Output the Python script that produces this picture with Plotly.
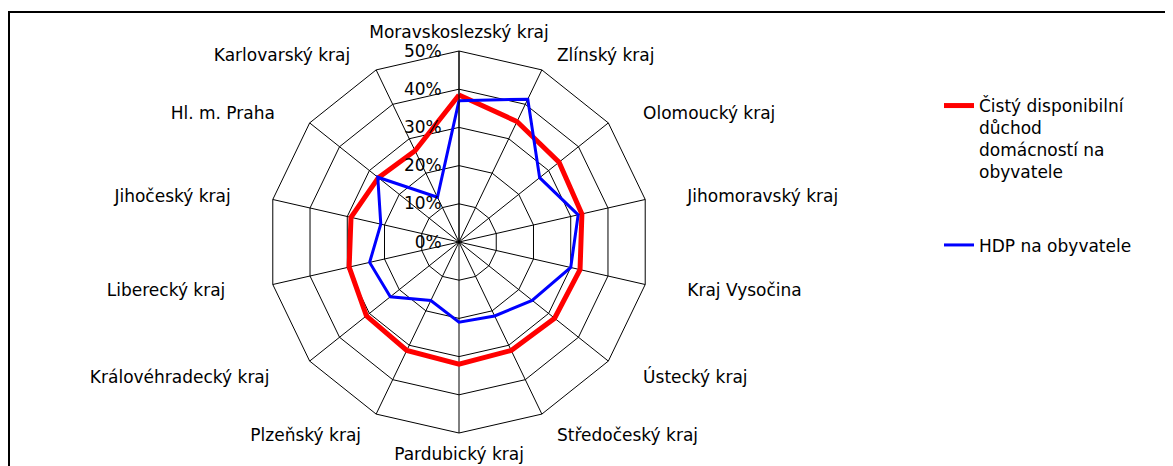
import plotly.graph_objects as go

categories = ["Moravskoslezský kraj", "Zlínský kraj", "Olomoucký kraj", "Jihomoravský kraj",
              "Kraj Vysočina", "Ústecký kraj", "Středočeský kraj", "Pardubický kraj",
              "Plzeňský kraj", "Královéhradecký kraj", "Liberecký kraj", "Jihočeský kraj",
              "Hl. m. Praha", "Karlovarský kraj"]
dispo = [0.385, 0.35, 0.335, 0.33, 0.325, 0.32, 0.315, 0.32, 0.315, 0.31, 0.295, 0.29, 0.27, 0.265]
hdp = [0.37, 0.415, 0.27, 0.32, 0.30, 0.245, 0.215, 0.21, 0.17, 0.23, 0.24, 0.21, 0.272, 0.13]
name_dispo = "Čistý disponibilní<br>důchod<br>domácností na<br>obyvatele"
name_hdp = "HDP na obyvatele"

W, H = 1173, 466
# page body has an 8px margin: positions below are in figure pixels
cx, cy, R = 451, 234, 191

# label padding (non-breaking spaces) to push labels away from the polygon, per side
NB = "\u00a0"
pads = [0, 2, 5, 6, 6, 5, 2, 0, 2, 6, 7, 6, 5, 4]
ticktext = []
for i, (c, p) in enumerate(zip(categories, pads)):
    if 0 < i < 7:
        ticktext.append(NB * p + c)
    elif i > 7:
        ticktext.append(c + NB * p)
    else:
        ticktext.append(c)

fig = go.Figure()
fig.add_trace(go.Scatterpolar(r=dispo + dispo[:1], theta=categories + categories[:1], mode="lines",
                              line=dict(color="#FF0000", width=5), name=name_dispo, legendgroup="a"))
fig.add_trace(go.Scatterpolar(r=hdp + hdp[:1], theta=categories + categories[:1], mode="lines",
                              line=dict(color="#0000FF", width=3), name=name_hdp, legendgroup="b"))

fam = "DejaVu Sans, Arial, sans-serif"
font = dict(family=fam, size=17, color="black")
fig.update_layout(
    width=W, height=H, margin=dict(l=0, r=0, t=0, b=0),
    paper_bgcolor="white", plot_bgcolor="white", font=font,
    polar=dict(
        domain=dict(x=[(cx - R) / W, (cx + R) / W], y=[(H - cy - R) / H, (H - cy + R) / H]),
        bgcolor="white", gridshape="linear",
        angularaxis=dict(direction="clockwise", rotation=90, showline=True, linecolor="black",
                         linewidth=1, gridcolor="black", gridwidth=1,
                         ticks="outside", ticklen=6, tickcolor="rgba(0,0,0,0)",
                         tickmode="array", tickvals=categories, ticktext=ticktext, tickfont=font),
        radialaxis=dict(range=[0, 0.5], dtick=0.1, tick0=0, tickformat=".0%", ticksuffix=NB * 2,
                        angle=90, tickangle=90,
                        side="counterclockwise", showline=True, linecolor="black", linewidth=1,
                        gridcolor="black", gridwidth=1, ticks="", tickfont=font),
    ),
    legend=dict(x=931 / W, y=(H - 80) / H, xanchor="left", yanchor="top", valign="top",
                tracegroupgap=48, traceorder="grouped", font=font, bgcolor="rgba(0,0,0,0)"),
    shapes=[dict(type="rect", xref="paper", yref="paper", x0=1 / W, x1=1.02, y0=-0.02, y1=(H - 4) / H,
                 line=dict(color="black", width=2), fillcolor="rgba(0,0,0,0)", layer="below")],
)

fig.write_html("out.html")
